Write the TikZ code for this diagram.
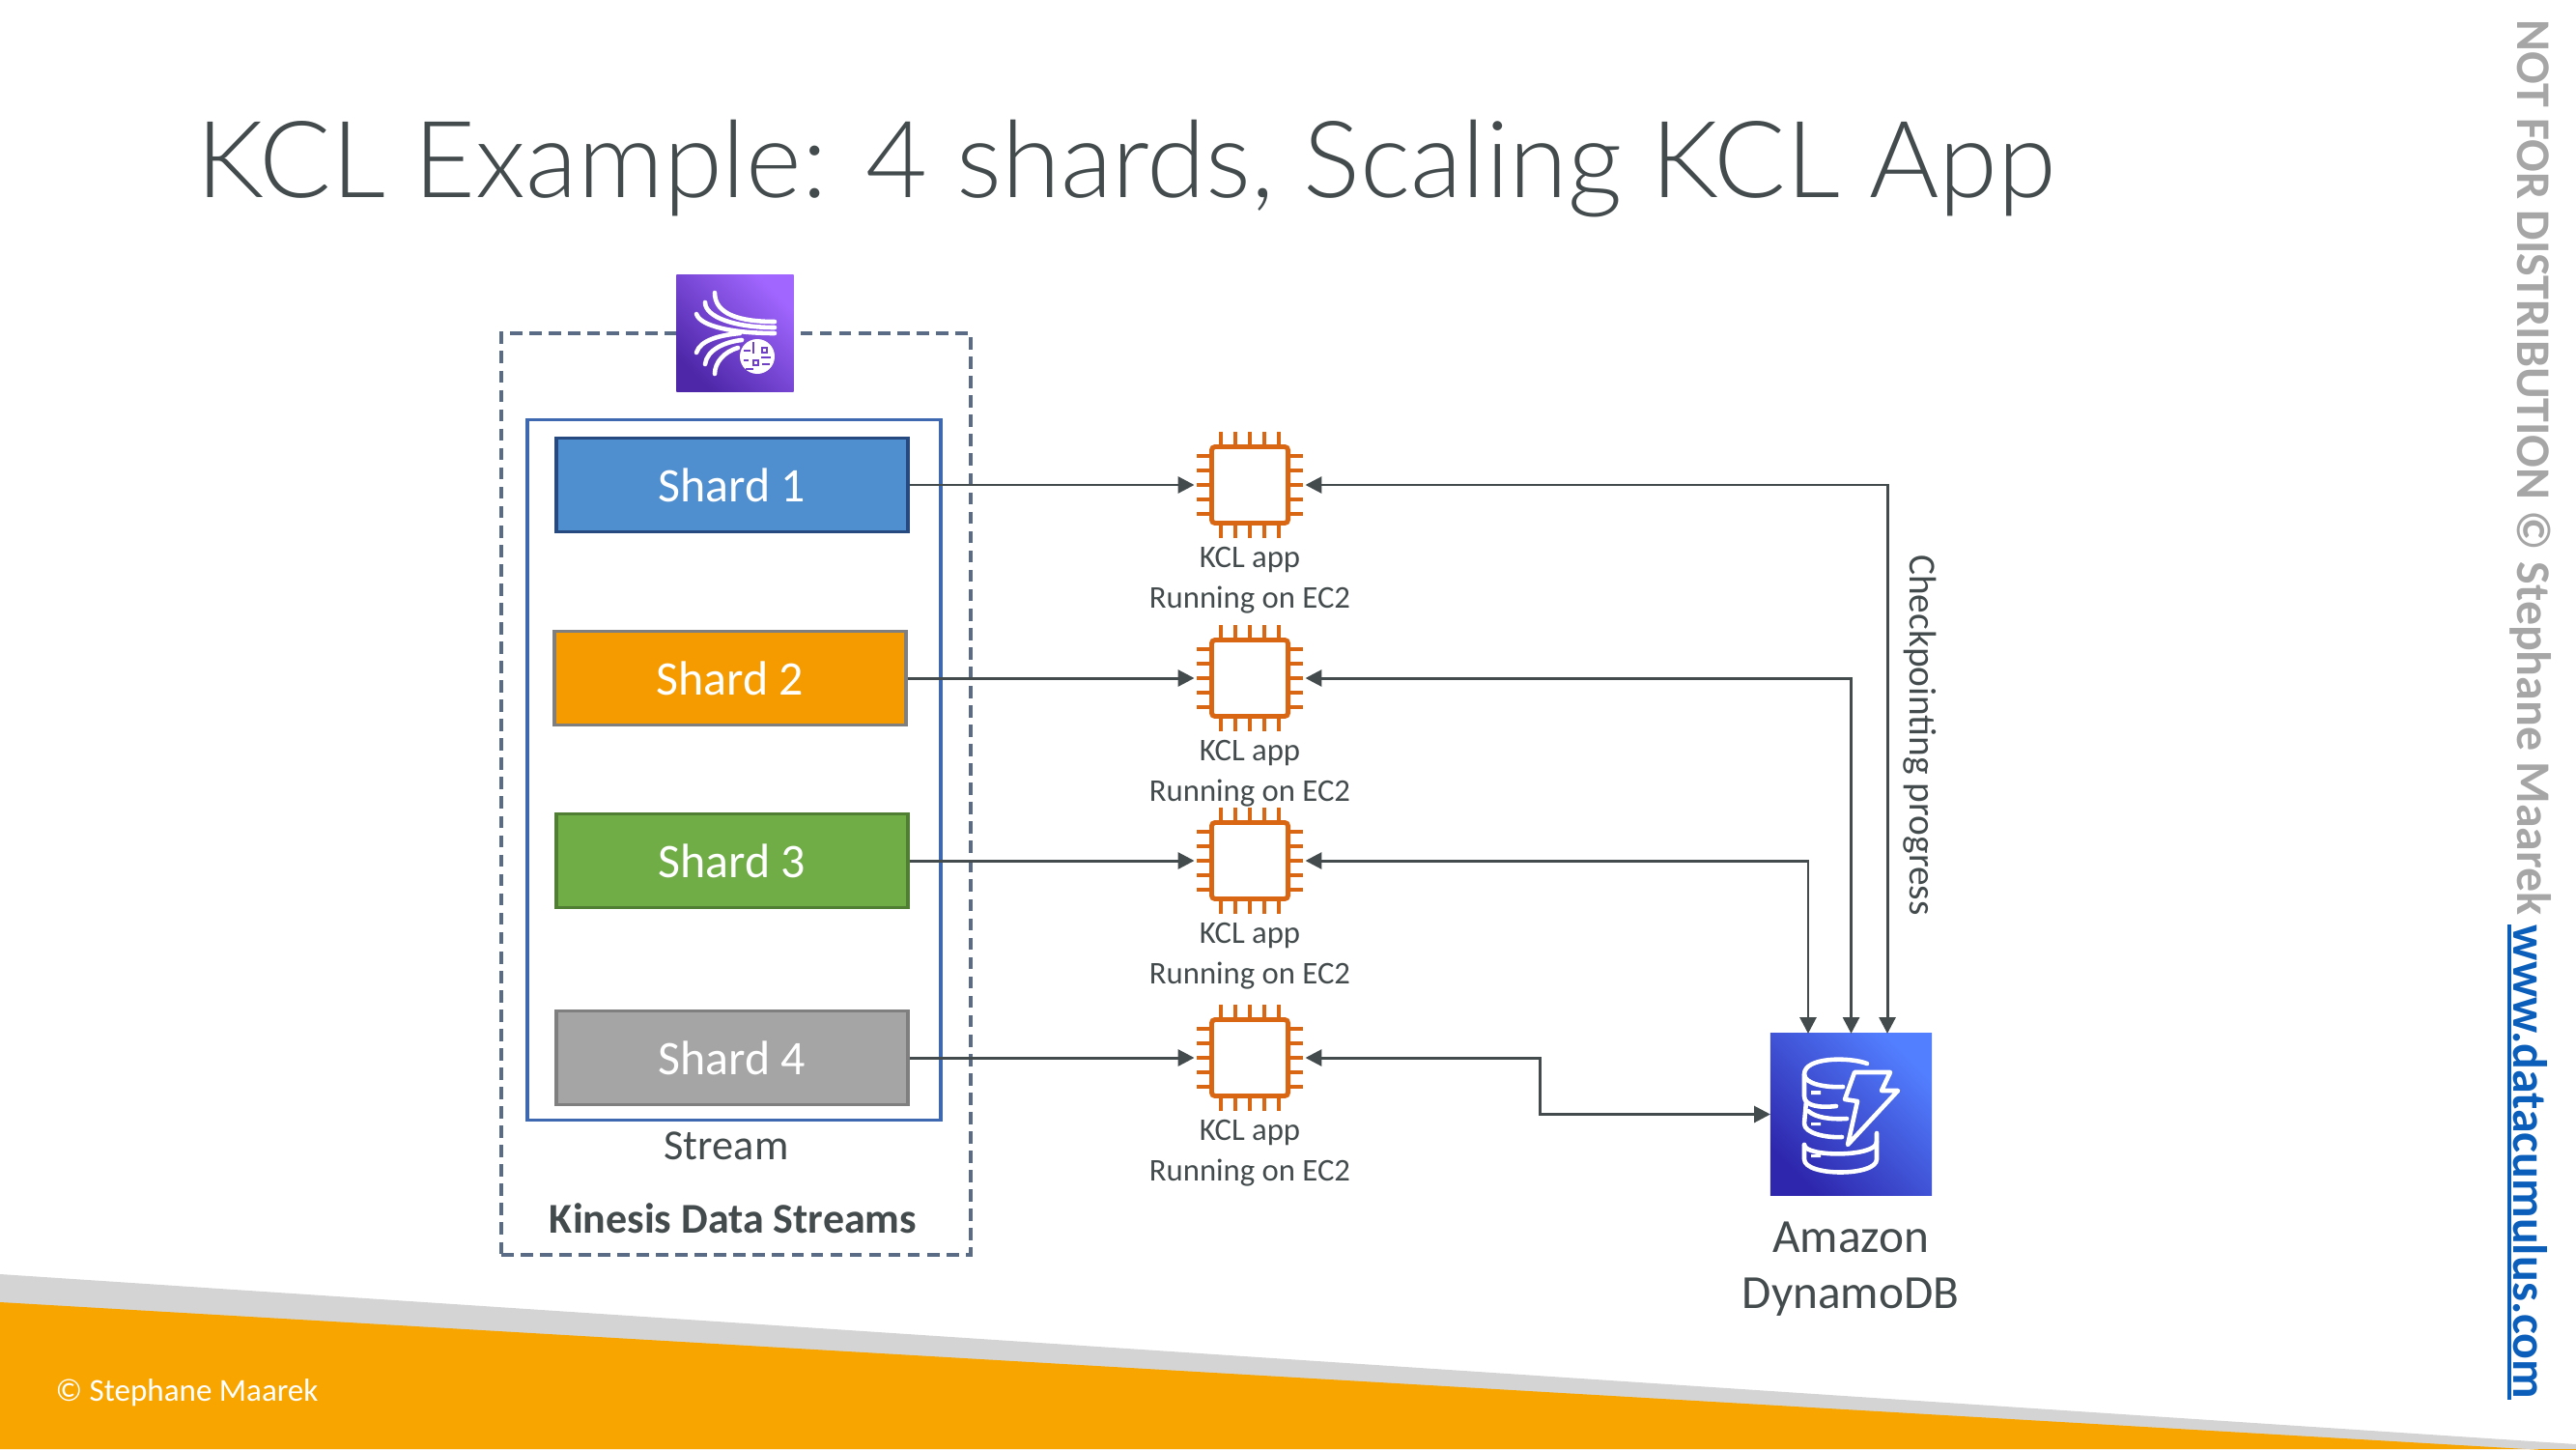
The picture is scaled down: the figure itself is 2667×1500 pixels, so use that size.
\documentclass[tikz,border=0pt]{standalone}
\usepackage{fontspec}
\setmainfont{Carlito}
\newfontfamily\titlefont{Lato Light}
\usetikzlibrary{arrows.meta}

\definecolor{inkgray}{HTML}{434B4D}
\definecolor{dashblue}{HTML}{5A6B86}
\definecolor{streamblue}{HTML}{3E68B0}
\definecolor{ec2orange}{HTML}{D86613}
\definecolor{bandorange}{HTML}{F8A500}
\definecolor{bandgray}{HTML}{D4D4D4}
\definecolor{linkblue}{HTML}{0B5FBB}
\definecolor{markgray}{HTML}{A6A6A6}
\definecolor{kinesisdark}{HTML}{4D27A8}
\definecolor{kinesislight}{HTML}{A166FF}
\definecolor{kinesismid}{HTML}{6F3FC8}
\definecolor{ddbdark}{HTML}{2E27AD}
\definecolor{ddblight}{HTML}{527FFF}
\definecolor{shardblue}{HTML}{4F8FCF}
\definecolor{shardblueline}{HTML}{264A80}
\definecolor{shardorange}{HTML}{F59B00}
\definecolor{shardgreen}{HTML}{70AD47}
\definecolor{shardgreenline}{HTML}{507E32}
\definecolor{shardgray}{HTML}{A5A5A5}
\definecolor{shardline}{HTML}{7F7F7F}

\tikzset{
    shardbox/.style={draw, line width=1.1pt, minimum width=3.64cm, minimum height=0.97cm, text=white, font=\fontsize{14.2pt}{17pt}\selectfont},
    conn/.style={draw=inkgray, line width=0.85pt, {Triangle[length=4.8pt,width=4.8pt]}-{Triangle[length=4.8pt,width=4.8pt]}},
    shardconn/.style={draw=inkgray, line width=0.85pt, -{Triangle[length=4.8pt,width=4.8pt]}},
    chip/.style={draw=ec2orange, line width=1.4pt, fill=white, rounded corners=1pt, minimum size=0.79cm, outer sep=5.1pt},
    pinline/.style={draw=ec2orange, line width=1.3pt},
    label/.style={text=inkgray, align=center, font=\fontsize{9.3pt}{12pt}\selectfont},
    iconline/.style={draw=white, line width=1.3pt, line cap=round, line join=round}
}

\begin{document}
\begin{tikzpicture}[x=0.01cm, y=-0.01cm]
    \useasboundingbox (0,0) rectangle (2667,1500);
    % Footer bands
    \fill[bandgray] (0,1319) -- (2667,1495) -- (2667,1500) -- (0,1500) -- cycle;
    \fill[bandorange] (0,1348) -- (2667,1503) -- (2667,1500) -- (0,1500) -- cycle;
    \node[text=white, anchor=west, inner sep=0pt, font=\fontsize{9.4pt}{11pt}\selectfont] (copyright) at (57,1442) {© Stephane Maarek};
    % Title
    \node[text=inkgray, anchor=west, inner sep=0pt, font=\titlefont\fontsize{31.4pt}{36pt}\selectfont] (title) at (203,175) {KCL Example: 4 shards, Scaling KCL App};
    % Side marks
    \node[rotate=-90, text=markgray, anchor=west, inner sep=0pt, font=\bfseries\fontsize{14.2pt}{17pt}\selectfont] (notice) at (2620,20) {NOT FOR DISTRIBUTION © Stephane Maarek};
    \node[rotate=-90, text=linkblue, anchor=west, inner sep=0pt, font=\bfseries\fontsize{14.2pt}{17pt}\selectfont] (site) at (2620,957) {www.datacumulus.com};
    \coordinate (siteup) at (2598,957);
    \coordinate (sitedown) at (2598,1449);
    \draw[linkblue, line width=1.1pt] (siteup) -- (sitedown);

    % Kinesis box and stream
    \node[draw=dashblue, dashed, dash pattern=on 3.6pt off 2.1pt, line width=1.1pt, minimum width=4.86cm, minimum height=9.53cm] (kinesis) at (762,822) {};
    \node[draw=streamblue, line width=1pt, minimum width=4.28cm, minimum height=7.25cm] (stream) at (760,797) {};
    \node[label, font=\fontsize{12.6pt}{15pt}\selectfont] (streamname) at (752,1186) {Stream};
    \node[label, font=\bfseries\fontsize{12.5pt}{15pt}\selectfont] (kinesisname) at (759,1261) {Kinesis Data Streams};

    % Kinesis icon
    \node[minimum width=1.21cm, minimum height=1.2cm, shading=axis, top color=kinesislight, bottom color=kinesisdark, shading angle=-45] (kinesisicon) at (761,345) {};
    \draw[iconline] (740,303) .. controls (740,325) and (765,333) .. (802,333);
    \draw[iconline] (730,313) .. controls (730,328) and (760,339) .. (802,339);
    \draw[iconline] (721,325) .. controls (725,338) and (760,345) .. (802,345);
    \draw[iconline] (721,365) .. controls (725,352) and (745,347) .. (766,345);
    \draw[iconline] (730,377) .. controls (732,362) and (750,354) .. (768,352);
    \draw[iconline] (740,387) .. controls (740,375) and (750,364) .. (764,360);
    \fill[white] (784,369) circle (18);
    \draw[kinesismid, line width=0.5pt] (789,360) rectangle (794,365) (780,373) rectangle (785,378) (770,363) -- (777,363) (770,373) -- (775,373) (788,370) -- (798,370) (772,382) -- (780,382) (789,377) -- (797,377) (780,354) -- (780,366);

    % Shards
    \node[shardbox, fill=shardblue, draw=shardblueline] (shard1) at (758,502) {Shard 1};
    \node[shardbox, fill=shardorange, draw=shardline] (shard2) at (756,702) {Shard 2};
    \node[shardbox, fill=shardgreen, draw=shardgreenline] (shard3) at (758,891) {Shard 3};
    \node[shardbox, fill=shardgray, draw=shardline] (shard4) at (758,1095) {Shard 4};

    % EC2 chips and labels
    \foreach \row/\y in {1/502, 2/702, 3/891, 4/1095} {
        \node[chip] (ec2\row) at (1294,\y) {};
        \begin{scope}[shift={(1294,\y)}]
            \foreach \p in {-30,-15,0,15,30} {
                \draw[pinline] (\p,-55) -- (\p,-41);
                \draw[pinline] (\p,55) -- (\p,41);
                \draw[pinline] (-55,\p) -- (-41,\p);
                \draw[pinline] (55,\p) -- (41,\p);
            }
        \end{scope}
        \node[label] (ec2label\row) at (1294,\y+99) {KCL app\\Running on EC2};
        \draw[shardconn] (shard\row.east) -- (ec2\row.west);
    }

    % DynamoDB icon
    \node[minimum size=1.67cm, inner sep=0pt, outer sep=0pt, shading=axis, top color=ddblight, bottom color=ddbdark, shading angle=-45] (ddb) at (1916.5,1153.5) {};
    \draw[iconline] (1933,1101) .. controls (1915,1094) and (1868,1094) .. (1868,1112) .. controls (1868,1122) and (1890,1126) .. (1908,1125);
    \draw[iconline] (1868,1112) -- (1868,1135) .. controls (1868,1145) and (1885,1147) .. (1901,1145);
    \draw[iconline] (1870,1140) -- (1868,1163) .. controls (1868,1173) and (1890,1178) .. (1907,1177);
    \draw[iconline] (1872,1150) .. controls (1880,1157) and (1895,1159) .. (1912,1158);
    \draw[iconline] (1868,1185) -- (1868,1200) .. controls (1868,1218) and (1943,1218) .. (1943,1200) -- (1943,1173);
    \draw[iconline] (1868,1185) .. controls (1868,1198) and (1943,1198) .. (1943,1182);
    \fill[white] (1875,1129) rectangle (1885,1133) (1875,1162) rectangle (1885,1165) (1875,1195) rectangle (1885,1198);
    \draw[iconline] (1920,1110) -- (1957,1110) -- (1948,1129) -- (1965,1129) -- (1913,1185) -- (1923,1140) -- (1910,1138) -- cycle;
    \node[label, font=\fontsize{14pt}{16.5pt}\selectfont] (ddbname) at (1916,1314) {Amazon\\DynamoDB};

    % Checkpoint lines
    \coordinate (bend) at (1594,1153.5);
    \draw[conn] (ec21.east) -| ([xshift=0.375cm]ddb.north);
    \draw[conn] (ec22.east) -| (ddb.north);
    \draw[conn] (ec23.east) -| ([xshift=-0.445cm]ddb.north);
    \draw[conn] (ec24.east) -| (bend) -- (ddb.west);
    \node[label, rotate=-90, font=\fontsize{11.2pt}{13pt}\selectfont] (checkname) at (1988,761) {Checkpointing progress};
\end{tikzpicture}
\end{document}
